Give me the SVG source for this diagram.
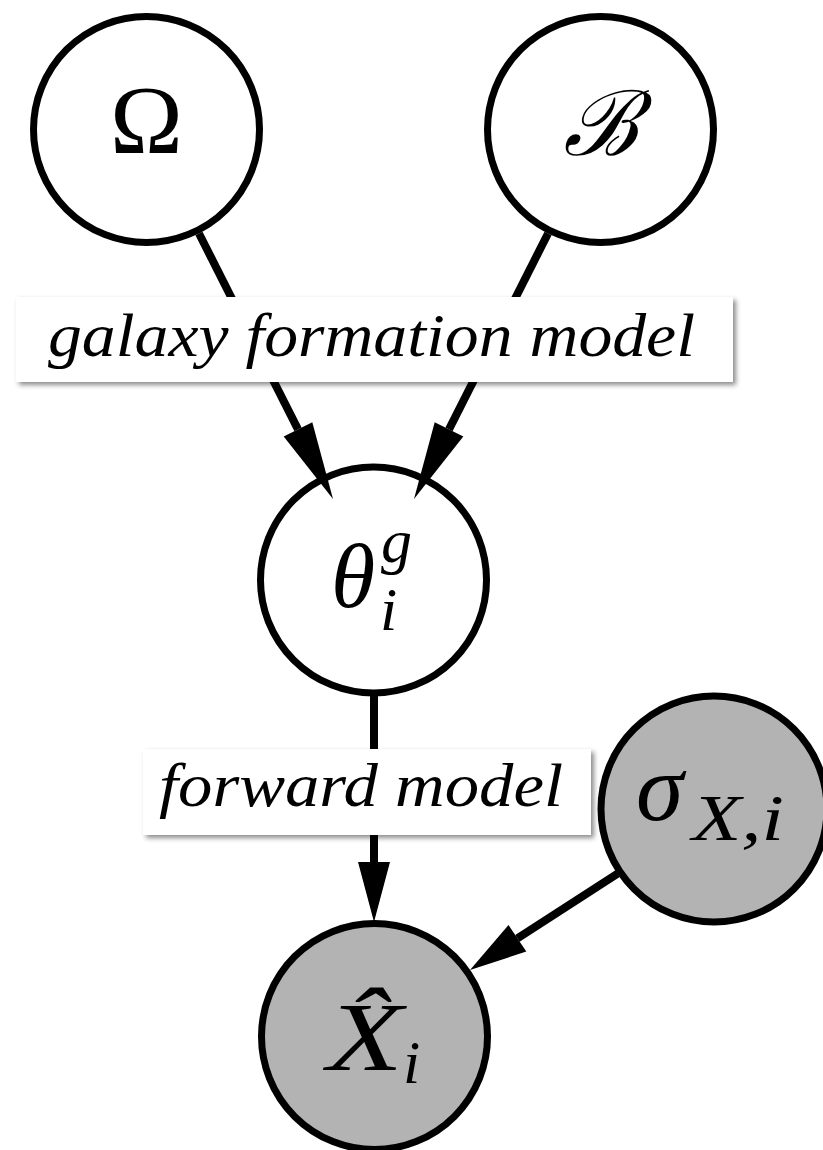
<svg xmlns="http://www.w3.org/2000/svg" width="823" height="1150" viewBox="0 0 823 1150">
<defs>
<style>
.node{stroke:#000;stroke-width:7;}
.open{fill:#fff;}
.obs{fill:#b3b3b3;}
.edge{stroke:#000;stroke-width:8;fill:none;}
.head{fill:#000;stroke:none;}
.math{font-family:"Liberation Serif","Times New Roman",serif;font-style:italic;fill:#000;}
.up{font-family:"Liberation Serif","Times New Roman",serif;fill:#000;}
.lbl{font-family:"Liberation Serif","Times New Roman",serif;font-style:italic;font-size:61px;fill:#000;}
.box{fill:#fff;filter:url(#shadow);}
</style>
<filter id="shadow" x="-5%" y="-20%" width="115%" height="150%">
<feDropShadow dx="3" dy="3" stdDeviation="2.5" flood-color="#000" flood-opacity="0.45"/>
</filter>
</defs>
<rect width="823" height="1150" fill="#fff"/>
<g id="node-omega">
<circle class="node open" cx="146.5" cy="129.5" r="113"/>
<text class="up" x="146.5" y="153" font-size="98" text-anchor="middle">Ω</text>
</g>
<g id="node-B">
<circle class="node open" cx="600.5" cy="129.5" r="113"/>
<text class="math" x="600" y="155" font-size="90" text-anchor="middle">ℬ</text>
</g>
<g id="node-theta">
<circle class="node open" cx="373.5" cy="580" r="113"/>
<text class="math" x="331" y="607" font-size="90">θ</text>
<text class="math" x="381" y="562" font-size="62">g</text>
<text class="math" x="380" y="630" font-size="62">i</text>
</g>
<g id="node-sigma">
<circle class="node obs" cx="714" cy="809" r="113"/>
<text class="math" x="636" y="820" font-size="96">σ</text>
<text class="math" x="692" y="840" font-size="66" textLength="92" lengthAdjust="spacingAndGlyphs">X,i</text>
</g>
<g id="node-Xhat">
<circle class="node obs" cx="374.5" cy="1036.5" r="113"/>
<text class="math" x="327" y="1070" font-size="97" textLength="76" lengthAdjust="spacingAndGlyphs">X̂</text>
<text class="math" x="403" y="1083" font-size="62">i</text>
</g>
<g id="connectors">
<line class="edge" x1="199" y1="233.5" x2="298" y2="429.4"/>
<polygon class="head" points="333,499 312.3,422.2 283.7,436.6"/>
<line class="edge" x1="548" y1="233.5" x2="449" y2="429.4"/>
<polygon class="head" points="414,499 434.7,422.2 463.3,436.6"/>
<line class="edge" x1="374" y1="696" x2="374" y2="864"/>
<polygon class="head" points="358,862 390,862 374,922"/>
<line class="edge" x1="617.6" y1="873.6" x2="517.4" y2="938.3"/>
<polygon class="head" points="470,970 526.3,951.6 508.5,925"/>
</g>
<g id="label-galaxy">
<rect class="box" x="16" y="297" width="717" height="85"/>
<text class="lbl" x="48" y="356" textLength="647" lengthAdjust="spacingAndGlyphs">galaxy formation model</text>
</g>
<g id="label-forward">
<rect class="box" x="143" y="749" width="448" height="86"/>
<text class="lbl" x="159" y="806" textLength="404" lengthAdjust="spacingAndGlyphs">forward model</text>
</g>
</svg>
